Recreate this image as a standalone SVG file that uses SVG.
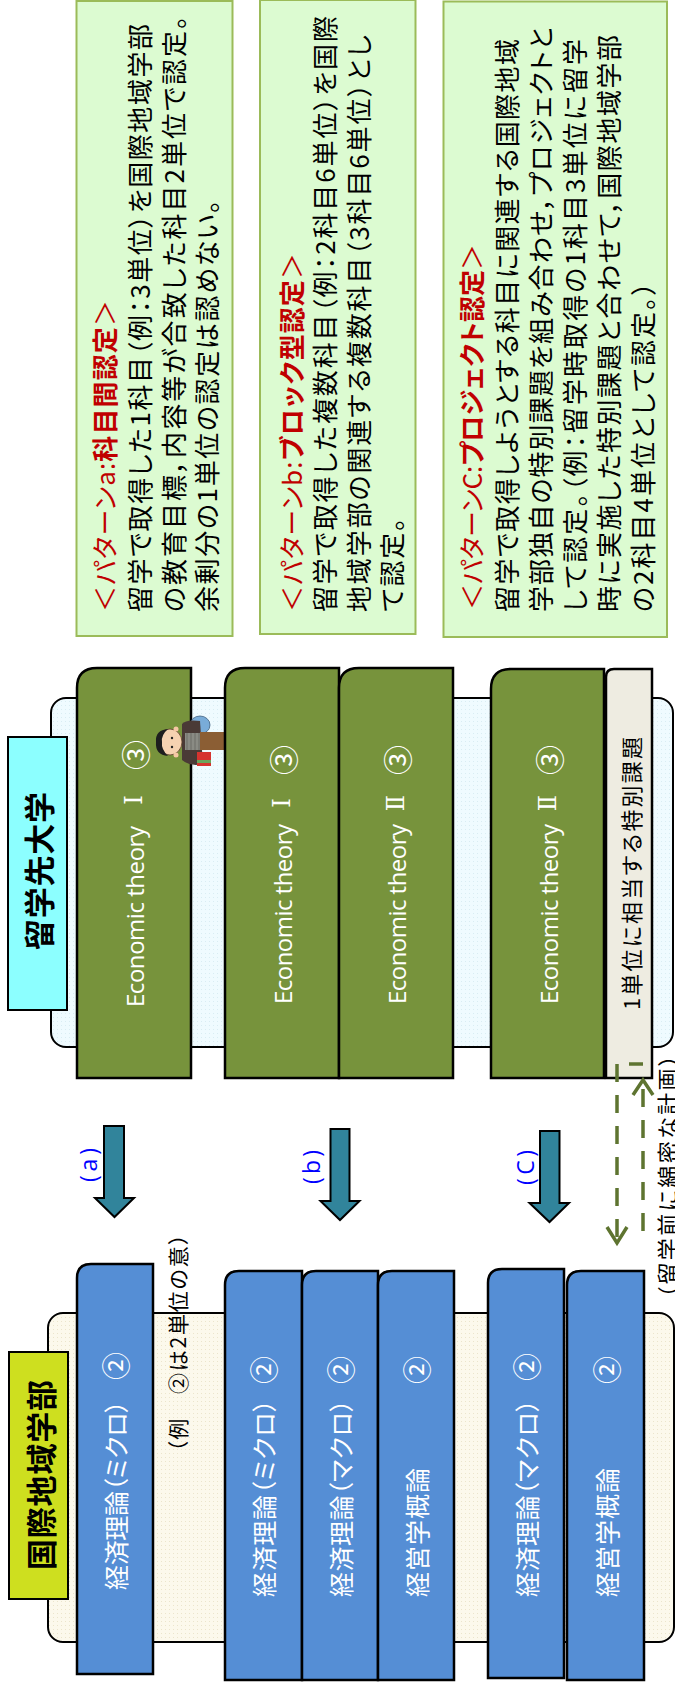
<svg xmlns="http://www.w3.org/2000/svg" width="675" height="1686" viewBox="0 0 675 1686">
  <defs>
    <pattern id="dotsBlue" width="4" height="4" patternUnits="userSpaceOnUse">
      <rect width="4" height="4" fill="#effbff"/>
      <rect x="1" y="1" width="1" height="1" fill="#d9edf3"/>
    </pattern>
    <pattern id="dotsCream" width="4" height="4" patternUnits="userSpaceOnUse">
      <rect width="4" height="4" fill="#fcf9ec"/>
      <rect x="1" y="1" width="1" height="1" fill="#ebe5cc"/>
    </pattern>
    <style>
      .jp { font-family: "Noto Sans CJK JP", "Noto Sans CJK SC", sans-serif; font-feature-settings: "palt"; }
      .en { font-family: "Open Sans", "Noto Sans", sans-serif; }
      .roman { font-family: "DejaVu Serif", "Liberation Serif", "Noto Sans CJK JP", serif; }
      .note { fill: #dcfbd1; stroke: #9bbb59; stroke-width: 2; }
      .hdr { font-size: 26px; fill: #c00000; }
      .txt { font-size: 26px; fill: #000; }
      .gbar { fill: #77933c; stroke: #000; stroke-width: 2.5; }
      .bbar { fill: #558ed5; stroke: #000; stroke-width: 2.5; }
      .white { fill: #fff; }
      .arrow { fill: #31849b; stroke: #000; stroke-width: 2; }
      .dash { fill: none; stroke: #5e7430; stroke-width: 3.5; stroke-dasharray: 18 13; }
      .head { fill: none; stroke: #5e7430; stroke-width: 3.5; }
      .tag { font-size: 23px; fill: #0000ff; }
    </style>
  </defs>

  <rect width="675" height="1686" fill="#fff"/>

  <!-- recognition pattern notes (text runs bottom-to-top) -->
  <g id="pattern-a">
    <rect class="note" x="76.5" y="1" width="156" height="635"/>
    <text class="jp hdr" dominant-baseline="central" transform="translate(103 612) rotate(-90)" textLength="312">＜パターンa:<tspan font-weight="700">科目間認定</tspan>＞</text>
    <text class="jp txt" dominant-baseline="central" transform="translate(138 612) rotate(-90)" textLength="588">留学で取得した1科目（例：3単位）を国際地域学部</text>
    <text class="jp txt" dominant-baseline="central" transform="translate(172 612) rotate(-90)" textLength="596">の教育目標，内容等が合致した科目2単位で認定。</text>
    <text class="jp txt" dominant-baseline="central" transform="translate(205 612) rotate(-90)" textLength="412">余剰分の1単位の認定は認めない。</text>
  </g>

  <g id="pattern-b">
    <rect class="note" x="260" y="0" width="155.5" height="634"/>
    <text class="jp hdr" dominant-baseline="central" transform="translate(290 612) rotate(-90)" textLength="359">＜パターンb:<tspan font-weight="700">ブロック型認定</tspan>＞</text>
    <text class="jp txt" dominant-baseline="central" transform="translate(323 612) rotate(-90)" textLength="596">留学で取得した複数科目（例：2科目6単位）を国際</text>
    <text class="jp txt" dominant-baseline="central" transform="translate(357 612) rotate(-90)" textLength="577">地域学部の関連する複数科目（3科目6単位）とし</text>
    <text class="jp txt" dominant-baseline="central" transform="translate(390 612) rotate(-90)" textLength="94">て認定。</text>
  </g>

  <g id="pattern-c">
    <rect class="note" x="443.5" y="1.5" width="223.5" height="635.5"/>
    <text class="jp hdr" dominant-baseline="central" transform="translate(470 610) rotate(-90)" textLength="366">＜パターンC:<tspan font-weight="700">プロジェクト認定</tspan>＞</text>
    <text class="jp txt" dominant-baseline="central" transform="translate(505 612) rotate(-90)" textLength="573">留学で取得しようとする科目に関連する国際地域</text>
    <text class="jp txt" dominant-baseline="central" transform="translate(539 612) rotate(-90)" textLength="585">学部独自の特別課題を組み合わせ，プロジェクトと</text>
    <text class="jp txt" dominant-baseline="central" transform="translate(573 612) rotate(-90)" textLength="573">して認定。（例：留学時取得の1科目3単位に留学</text>
    <text class="jp txt" dominant-baseline="central" transform="translate(607 612) rotate(-90)" textLength="577">時に実施した特別課題と合わせて，国際地域学部</text>
    <text class="jp txt" dominant-baseline="central" transform="translate(641 612) rotate(-90)" textLength="330">の2科目4単位として認定。）</text>
  </g>

  <!-- host university block -->
  <g id="host-university">
    <rect x="51" y="698" width="622" height="349" rx="15" fill="url(#dotsBlue)" stroke="#000" stroke-width="2"/>
  </g>
  <g id="host-label">
    <rect x="8" y="737" width="59" height="273" fill="#8cffff" stroke="#000" stroke-width="2"/>
    <text class="jp" font-size="31" font-weight="700" text-anchor="middle" dominant-baseline="central" transform="translate(37 871) rotate(-90)" textLength="158">留学先大学</text>
  </g>

  <g id="host-course-a1">
    <path class="gbar" d="M97 668 H191 V1078 H77 V688 Q77 668 97 668 Z"/>
    <text class="en white" font-size="24" dominant-baseline="central" transform="translate(134 1007) rotate(-90)" textLength="181">Economic theory</text>
    <text class="roman white" font-size="24" text-anchor="middle" dominant-baseline="central" transform="translate(134 800) rotate(-90)">Ⅰ</text>
    <text class="jp white" font-size="30" text-anchor="middle" dominant-baseline="central" transform="translate(134 755) rotate(-90)">③</text>
  </g>

  <!-- student figure standing on the first course -->
  <g id="student">
    <ellipse cx="200" cy="725" rx="10" ry="9" fill="#79acd8" stroke="#3d5f80" stroke-width="0.8"/>
    <path d="M182 724 Q186 719 200 721 L203 764 Q190 767 182 760 Z" fill="#4a3a36"/>
    <rect x="185" y="733" width="16" height="17" fill="#8a8b84"/>
    <path d="M187 733 V750 M191 733 V750 M195 733 V750 M199 733 V750" stroke="#6c6d66" stroke-width="1"/>
    <path d="M200 732 H225 V750 H200 Z" fill="#8b5e34"/>
    <rect x="224" y="731" width="4" height="20" fill="#5a3e22"/>
    <rect x="197" y="752" width="14" height="14" fill="#d6332f"/>
    <rect x="197" y="760" width="14" height="3" fill="#6aa35a"/>
    <ellipse cx="170" cy="742" rx="12" ry="13" fill="#f6d2b1" stroke="#5a3a2a" stroke-width="0.8"/>
    <path d="M168 729 Q155 730 156 742 Q155 755 168 756 Q161 749 162 742 Q161 735 168 729 Z" fill="#1e1e1e"/>
    <circle cx="172" cy="738" r="1.2" fill="#222"/>
    <circle cx="172" cy="747" r="1.2" fill="#222"/>
    <circle cx="176" cy="729" r="2.5" fill="#f6c8a4"/>
    <circle cx="176" cy="755" r="2.5" fill="#f6c8a4"/>
  </g>

  <g id="host-course-b1">
    <path class="gbar" d="M245 668 H339 V1078 H225 V688 Q225 668 245 668 Z"/>
    <text class="en white" font-size="24" dominant-baseline="central" transform="translate(282 1004) rotate(-90)" textLength="180">Economic theory</text>
    <text class="roman white" font-size="24" text-anchor="middle" dominant-baseline="central" transform="translate(282 803) rotate(-90)">Ⅰ</text>
    <text class="jp white" font-size="30" text-anchor="middle" dominant-baseline="central" transform="translate(282 760) rotate(-90)">③</text>
  </g>
  <g id="host-course-b2">
    <path class="gbar" d="M359 668 H453 V1078 H339 V688 Q339 668 359 668 Z"/>
    <text class="en white" font-size="24" dominant-baseline="central" transform="translate(396 1004) rotate(-90)" textLength="180">Economic theory</text>
    <text class="roman white" font-size="24" text-anchor="middle" dominant-baseline="central" transform="translate(396 803) rotate(-90)">Ⅱ</text>
    <text class="jp white" font-size="30" text-anchor="middle" dominant-baseline="central" transform="translate(396 760) rotate(-90)">③</text>
  </g>
  <g id="host-course-c1">
    <path class="gbar" d="M511 669 H604 V1078 H491 V689 Q491 669 511 669 Z"/>
    <text class="en white" font-size="24" dominant-baseline="central" transform="translate(548 1004) rotate(-90)" textLength="180">Economic theory</text>
    <text class="roman white" font-size="24" text-anchor="middle" dominant-baseline="central" transform="translate(548 803) rotate(-90)">Ⅱ</text>
    <text class="jp white" font-size="30" text-anchor="middle" dominant-baseline="central" transform="translate(548 760) rotate(-90)">③</text>
  </g>
  <g id="host-special-task">
    <path d="M614 669 H652 V1078 H606 V677 Q606 669 614 669 Z" fill="#eeece1" stroke="#000" stroke-width="2.5"/>
    <text class="jp" font-size="22" fill="#000" dominant-baseline="central" transform="translate(630 1010) rotate(-90)" textLength="273">1単位に相当する特別課題</text>
  </g>

  <!-- home faculty block -->
  <g id="home-faculty">
    <rect x="48" y="1313" width="626" height="329" rx="15" fill="url(#dotsCream)" stroke="#000" stroke-width="2"/>
  </g>
  <g id="home-label">
    <rect x="9" y="1352" width="59" height="247" fill="#cedf1f" stroke="#000" stroke-width="2"/>
    <text class="jp" font-size="31" font-weight="700" text-anchor="middle" dominant-baseline="central" transform="translate(39 1475) rotate(-90)" textLength="190">国際地域学部</text>
  </g>

  <g id="home-course-a1">
    <path class="bbar" d="M91 1264 H153 V1674 H77 V1278 Q77 1264 91 1264 Z"/>
    <text class="jp white" font-size="25" dominant-baseline="central" transform="translate(115 1590) rotate(-90)" textLength="190">経済理論（ミクロ）</text>
    <text class="jp white" font-size="28" text-anchor="middle" dominant-baseline="central" transform="translate(115 1366) rotate(-90)">②</text>
  </g>
  <g id="home-note">
    <text class="jp" font-size="21" fill="#000" dominant-baseline="central" transform="translate(177 1452) rotate(-90)" textLength="218">（例　②は2単位の意）</text>
  </g>

  <g id="home-course-b1">
    <path class="bbar" d="M239 1271 H302 V1680 H225 V1285 Q225 1271 239 1271 Z"/>
    <text class="jp white" font-size="25" dominant-baseline="central" transform="translate(263 1597) rotate(-90)" textLength="198">経済理論（ミクロ）</text>
    <text class="jp white" font-size="28" text-anchor="middle" dominant-baseline="central" transform="translate(263 1370) rotate(-90)">②</text>
  </g>
  <g id="home-course-b2">
    <path class="bbar" d="M316 1271 H378 V1680 H302 V1285 Q302 1271 316 1271 Z"/>
    <text class="jp white" font-size="25" dominant-baseline="central" transform="translate(340 1597) rotate(-90)" textLength="198">経済理論（マクロ）</text>
    <text class="jp white" font-size="28" text-anchor="middle" dominant-baseline="central" transform="translate(340 1370) rotate(-90)">②</text>
  </g>
  <g id="home-course-b3">
    <path class="bbar" d="M392 1271 H454 V1680 H378 V1285 Q378 1271 392 1271 Z"/>
    <text class="jp white" font-size="25" dominant-baseline="central" transform="translate(416 1597) rotate(-90)" textLength="129">経営学概論</text>
    <text class="jp white" font-size="28" text-anchor="middle" dominant-baseline="central" transform="translate(416 1370) rotate(-90)">②</text>
  </g>
  <g id="home-course-c1">
    <path class="bbar" d="M502 1269 H564 V1678 H488 V1283 Q488 1269 502 1269 Z"/>
    <text class="jp white" font-size="25" dominant-baseline="central" transform="translate(526 1597) rotate(-90)" textLength="198">経済理論（マクロ）</text>
    <text class="jp white" font-size="28" text-anchor="middle" dominant-baseline="central" transform="translate(526 1367) rotate(-90)">②</text>
  </g>
  <g id="home-course-c2">
    <path class="bbar" d="M581 1271 H644 V1680 H567 V1285 Q567 1271 581 1271 Z"/>
    <text class="jp white" font-size="25" dominant-baseline="central" transform="translate(606 1597) rotate(-90)" textLength="129">経営学概論</text>
    <text class="jp white" font-size="28" text-anchor="middle" dominant-baseline="central" transform="translate(606 1370) rotate(-90)">②</text>
  </g>

  <!-- connectors: transfer arrows and planning loop -->
  <g id="connectors">
    <polygon class="arrow" points="104,1126 124,1126 124,1198 134,1198 114.5,1217 95,1198 104,1198"/>
    <polygon class="arrow" points="330.5,1129 349.5,1129 349.5,1201 359.5,1201 340,1220 320.5,1201 330.5,1201"/>
    <polygon class="arrow" points="540,1131 559.5,1131 559.5,1203 569,1203 549.5,1222 529.5,1203 540,1203"/>
    <text class="en tag" dominant-baseline="central" transform="translate(88 1182) rotate(-90)" textLength="34">(a)</text>
    <text class="en tag" dominant-baseline="central" transform="translate(311 1184) rotate(-90)" textLength="34">(b)</text>
    <text class="en tag" dominant-baseline="central" transform="translate(525 1185) rotate(-90)" textLength="35">(C)</text>

    <line class="dash" x1="617" y1="1064" x2="617" y2="1242"/>
    <polyline class="head" points="607,1227 617,1243 627,1227"/>
    <line class="dash" x1="643" y1="1231" x2="643" y2="1082"/>
    <polyline class="head" points="633,1095 643,1080 653,1095"/>
    <line x1="629" y1="1064" x2="643" y2="1064" stroke="#5e7430" stroke-width="3.5"/>
    <text class="jp" font-size="22" fill="#000" dominant-baseline="central" transform="translate(666 1298) rotate(-90)" textLength="243">（留学前に綿密な計画）</text>
  </g>
</svg>
